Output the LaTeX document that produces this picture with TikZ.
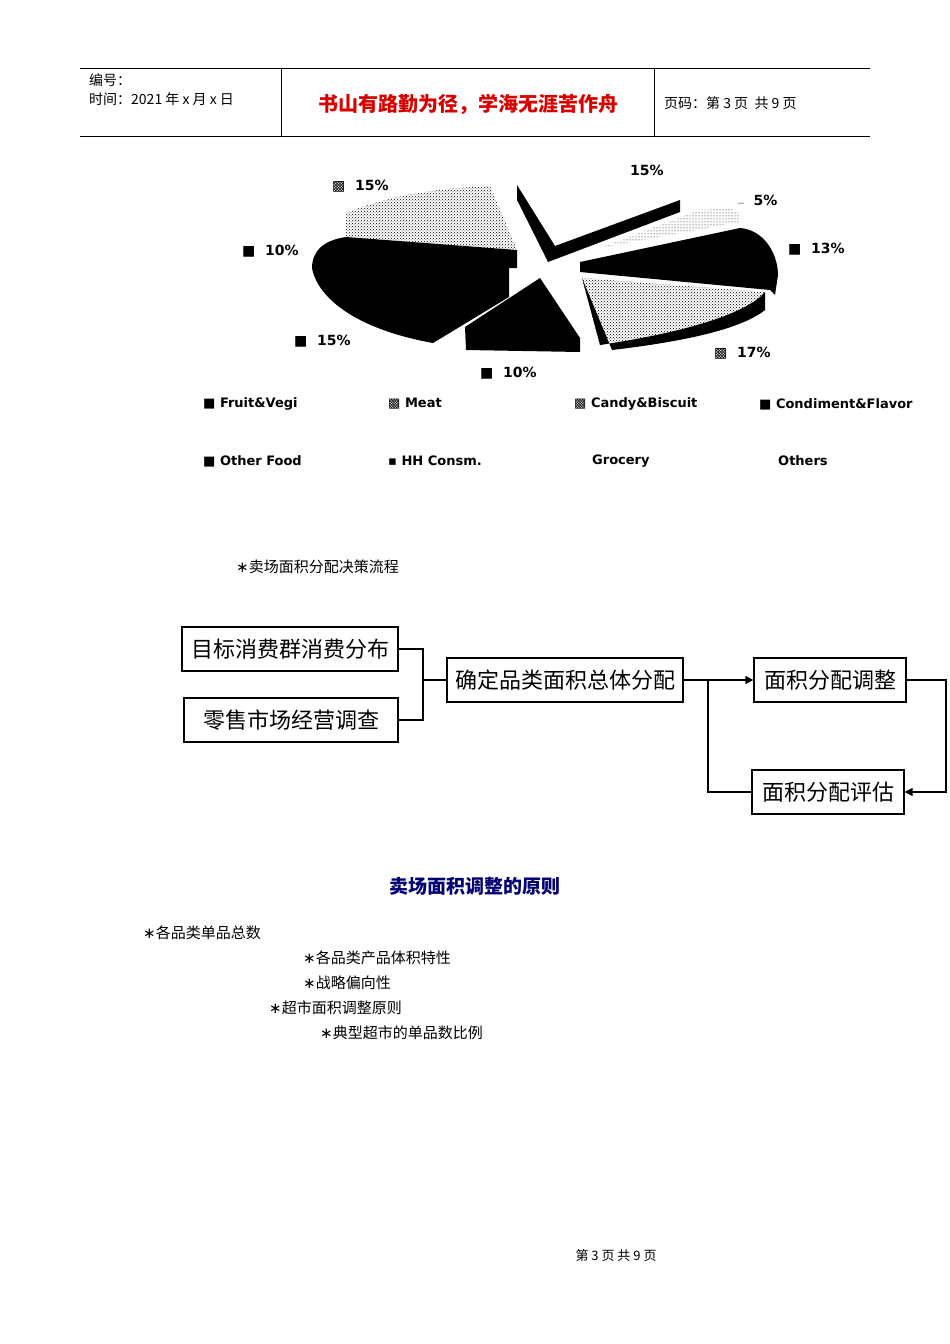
\documentclass[tikz,border=0pt]{standalone}
\usepackage{fontspec}
\setmainfont{Liberation Serif}
\newfontfamily\cjk{Noto Sans CJK SC}
\newfontfamily\lab{DejaVu Sans}
\newcommand{\mystar}{{\lab ∗}}
\usetikzlibrary{patterns,arrows.meta}
\begin{document}
\begin{tikzpicture}[x=1pt,y=-1pt,
  hdr/.style={font=\cjk\fontsize{14}{16}\selectfont,anchor=west,inner sep=0},
  pct/.style={font=\lab\bfseries\fontsize{14}{16}\selectfont,anchor=west,inner sep=0},
  leg/.style={font=\lab\bfseries\fontsize{13}{15}\selectfont,anchor=west,inner sep=0},
  flow/.style={draw,line width=1.3pt,font=\cjk\fontsize{22}{26}\selectfont,inner sep=0,minimum height=44pt},
  body/.style={font=\cjk\fontsize{15}{18}\selectfont,anchor=west,inner sep=0},
  ln/.style={line width=1.2pt},
  pat/.style={pattern=crosshatch dots}]
\useasboundingbox (0,0) rectangle (950,1344);
% header
\draw[line width=0.5pt] (80,68) -- (870,68) (80,136) -- (870,136) (281,68) -- (281,136) (654,68) -- (654,136);
\node[hdr] (h1) at (89,80) {编号：};
\node[hdr] (h2) at (89,99) {时间：2021 年 x 月 x 日};
\node[font=\cjk\bfseries\fontsize{20}{24}\selectfont,text=red!85!black] (ht) at (468,104) {书山有路勤为径，学海无涯苦作舟};
\node[hdr] (h3) at (664,103) {页码：第 3 页\ \ 共 9 页};
% pie left
\fill[pat] (346,237) -- (346,213) .. controls (390,195) and (440,188) .. (490,186) -- (517,250) -- cycle;
\fill (346,237) -- (517,250) -- (517,268) -- (509,268) -- (509,297) -- (433,343) .. controls (360,330) and (318,300) .. (312,268) .. controls (312,250) and (325,240) .. (346,237) -- cycle;
\fill (540,278) -- (465,327) -- (466,350) -- (580,352) -- (580,338) -- cycle;
% pie right
\fill (517,185) -- (517,200) -- (548,262) -- (680,212) -- (680,200) -- (555,246) -- cycle;
\fill[pattern=dots] (600,248) -- (700,210) .. controls (720,210) and (735,205) .. (740,215) -- (740,222) -- cycle;
\fill (580,262) -- (740,228) .. controls (765,230) and (778,255) .. (778,275) -- (775,295) -- (770,290) -- (580,272) -- cycle;
\fill[pat] (582,278) -- (765,292) .. controls (750,310) and (700,330) .. (600,345) -- cycle;
\fill (582,278) -- (600,345) .. controls (700,330) and (750,310) .. (765,292) -- (765,310) .. controls (740,330) and (680,342) .. (612,350) -- cycle;
% pct labels
\node[pct] (p1) at (332,186) {▩\ \ 15\%};
\node[pct] (p2) at (630,170) {15\%};
\node[pct] (p3) at (738,200) {{\tiny ···}\ \ 5\%};
\node[pct] (p4) at (242,251) {■\ \ 10\%};
\node[pct] (p5) at (788,249) {■\ \ 13\%};
\node[pct] (p6) at (294,341) {■\ \ 15\%};
\node[pct] (p7) at (714,353) {▩\ \ 17\%};
\node[pct] (p8) at (480,373) {■\ \ 10\%};
% legend
\node[leg] (l1) at (203,404) {■ Fruit\&Vegi};
\node[leg] (l2) at (388,404) {▩ Meat};
\node[leg] (l3) at (574,404) {▩ Candy\&Biscuit};
\node[leg] (l4) at (759,404) {■ Condiment\&Flavor};
\node[leg] (l5) at (203,461) {■ Other Food};
\node[leg] (l6) at (388,461) {▪ HH Consm.};
\node[leg] (l7) at (592,461) {Grocery};
\node[leg] (l8) at (778,461) {Others};
% flow
\node[body] (ft) at (236,567) {\mystar 卖场面积分配决策流程};
\node[flow,minimum width=216pt] (a) at (290,649) {目标消费群消费分布};
\node[flow,minimum width=214pt] (b) at (291,720) {零售市场经营调查};
\node[flow,minimum width=236pt] (c) at (565,680) {确定品类面积总体分配};
\node[flow,minimum width=152pt] (d) at (830,680) {面积分配调整};
\node[flow,minimum width=152pt] (e) at (828,792) {面积分配评估};
\coordinate (j) at (423,680);
\coordinate (k) at (708,680);
\coordinate (r) at (946,680);
\draw[ln] (a.east) -- (423,649) -- (423,720) -- (b.east);
\draw[ln] (j) -- (c.west);
\draw[ln,-{Triangle[length=8pt,width=8pt]}] (c.east) -- (d.west);
\draw[ln] (k) |- (e.west);
\draw[ln,-{Triangle[length=8pt,width=8pt]}] (d.east) -- (r) |- (e.east);
% principles
\node[font=\cjk\bfseries\fontsize{19}{22}\selectfont,text=blue!45!black] (pt) at (475,886) {卖场面积调整的原则};
\node[body] (b1) at (143,933) {\mystar 各品类单品总数};
\node[body] (b2) at (303,958) {\mystar 各品类产品体积特性};
\node[body] (b3) at (303,983) {\mystar 战略偏向性};
\node[body] (b4) at (269,1008) {\mystar 超市面积调整原则};
\node[body] (b5) at (320,1033) {\mystar 典型超市的单品数比例};
\node[font=\cjk\fontsize{13}{15}\selectfont] (ft2) at (616,1256) {第 3 页 共 9 页};
\end{tikzpicture}
\end{document}
